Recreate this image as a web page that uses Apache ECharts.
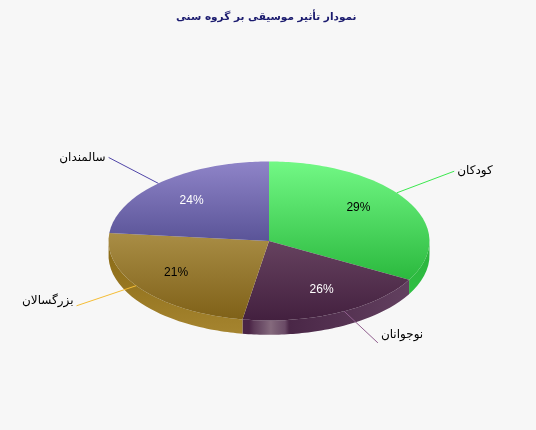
<!DOCTYPE html>
<html><head><meta charset="utf-8">
<style>html,body{margin:0;padding:0;background:#f7f7f7}#c{width:536px;height:430px}</style>
<script src="https://cdn.jsdelivr.net/npm/echarts@6/dist/echarts.min.js"></script>
</head><body><div id="c"></div>
<script>
const titleText = 'نمودار تأثیر موسیقی بر گروه سنی';
const categories = ['کودکان', 'نوجوانان', 'بزرگسالان', 'سالمندان'];
const values = [29.3, 25.9, 20.6, 24.2];
const percentLabels = ['29%', '26%', '21%', '24%'];
const labelColors = ['#000000', '#ffffff', '#000000', '#ffffff'];
const topLight = ['#72f885', '#66425f', '#a98d45', '#8f84c8'];
const topDark = ['#2bb93e', '#43203f', '#7f6118', '#5a5498'];
const sideLight = ['#2fc043', '#62405f', '#a5842f', '#5a5498'];
const sideDark = ['#2bb03c', '#4a2446', '#8a6a15', '#4a4488'];
const leaderColors = ['#3be84e', '#915f8f', '#f5bd35', '#5045a8'];

const DEPTH = 0.18, STEP = Math.PI / 90, ASPECT = 0.495;
const total = values.reduce((a, b) => a + b, 0);
const rimPoint = (a) => {
  const s = Math.sin(a) * ASPECT, c = Math.cos(a);
  const k = 1 / Math.hypot(s, c);
  return [s * k, c * k];
};
const param = (a) => [Math.sin(a), Math.cos(a)];

function renderItem(params, api) {
  const i = params.dataIndex;
  let sum = 0;
  for (let j = 0; j < i; j++) sum += values[j];
  const a0 = sum / total * 2 * Math.PI;
  const a1 = (sum + values[i]) / total * 2 * Math.PI;
  const mid = (a0 + a1) / 2;
  const arc = [];
  const n = Math.ceil((a1 - a0) / STEP);
  for (let k = 0; k <= n; k++) arc.push(rimPoint(a0 + (a1 - a0) * k / n));
  const children = [];
  const front = arc.filter(p => p[1] <= 0.02);
  if (front.length > 1) {
    const top = front.map(p => api.coord(p));
    const low = front.slice().reverse().map(p => api.coord([p[0], p[1] - DEPTH]));
    const isPurple = i === 1;
    const stops = isPurple
      ? [{offset: 0, color: '#62405f'}, {offset: 0.72, color: '#4a2747'},
         {offset: 0.745, color: '#6a4a66'}, {offset: 0.80, color: '#7a5e74'},
         {offset: 0.83, color: '#856a7d'}, {offset: 0.87, color: '#73566e'},
         {offset: 0.93, color: '#5c3a57'}, {offset: 0.96, color: '#4a2446'}, {offset: 1, color: '#4a2446'}]
      : [{offset: 0, color: sideDark[i]}, {offset: 1, color: sideLight[i]}];
    children.push({
      type: 'polygon', shape: {points: top.concat(low)},
      style: {fill: new echarts.graphic.LinearGradient(0, 0, isPurple ? 1 : 0, isPurple ? 0 : 1, isPurple ? stops.slice().reverse().map(s => ({offset: 1 - s.offset, color: s.color})) : stops)}
    });
  }
  const face = [api.coord([0, 0])].concat(arc.map(p => api.coord(p)));
  children.push({
    type: 'polygon', shape: {points: face},
    style: {fill: new echarts.graphic.LinearGradient(0, 0, 0, 1, [
      {offset: 0, color: topLight[i]}, {offset: 1, color: topDark[i]}])}
  });
  const m = param(mid);
  const p0 = api.coord(m);
  const p1 = api.coord([m[0] * 1.45, m[1] * 1.45]);
  children.push({
    type: 'line', shape: {x1: p0[0], y1: p0[1], x2: p1[0], y2: p1[1]},
    style: {stroke: leaderColors[i], lineWidth: 1}
  });
  const pc = api.coord([m[0] * 0.7, m[1] * 0.7]);
  children.push({
    type: 'text', x: pc[0], y: pc[1],
    style: {text: percentLabels[i], fill: labelColors[i], font: '12px "Liberation Sans", sans-serif', align: 'center', verticalAlign: 'middle'}
  });
  const right = m[0] > 0;
  const dy = m[1] > 0 ? 0 : 8.5 * m[1];
  children.push({
    type: 'text', x: p1[0] + (right ? 3 : -3), y: p1[1] + dy,
    style: {text: categories[i], fill: '#000', font: '12px "DejaVu Sans", sans-serif', align: right ? 'left' : 'right', verticalAlign: 'middle'}
  });
  return {type: 'group', children};
}

const chart = echarts.init(document.getElementById('c'), null, {renderer: 'canvas'});
chart.setOption({
  animation: false,
  backgroundColor: '#f7f7f7',
  title: {text: titleText, left: 171, top: 7,
    textStyle: {color: '#1a1a6e', fontSize: 10.5, fontWeight: 'bold', fontFamily: '"DejaVu Sans", sans-serif'}},
  grid: {left: 108.5, top: 161.5, width: 321, height: 159},
  xAxis: {type: 'value', min: -1, max: 1, show: false},
  yAxis: {type: 'value', min: -1, max: 1, show: false},
  series: [{
    type: 'custom', coordinateSystem: 'cartesian2d', clip: false,
    renderItem,
    data: values.map((v, i) => [v, i])
  }]
});
</script></body></html>
